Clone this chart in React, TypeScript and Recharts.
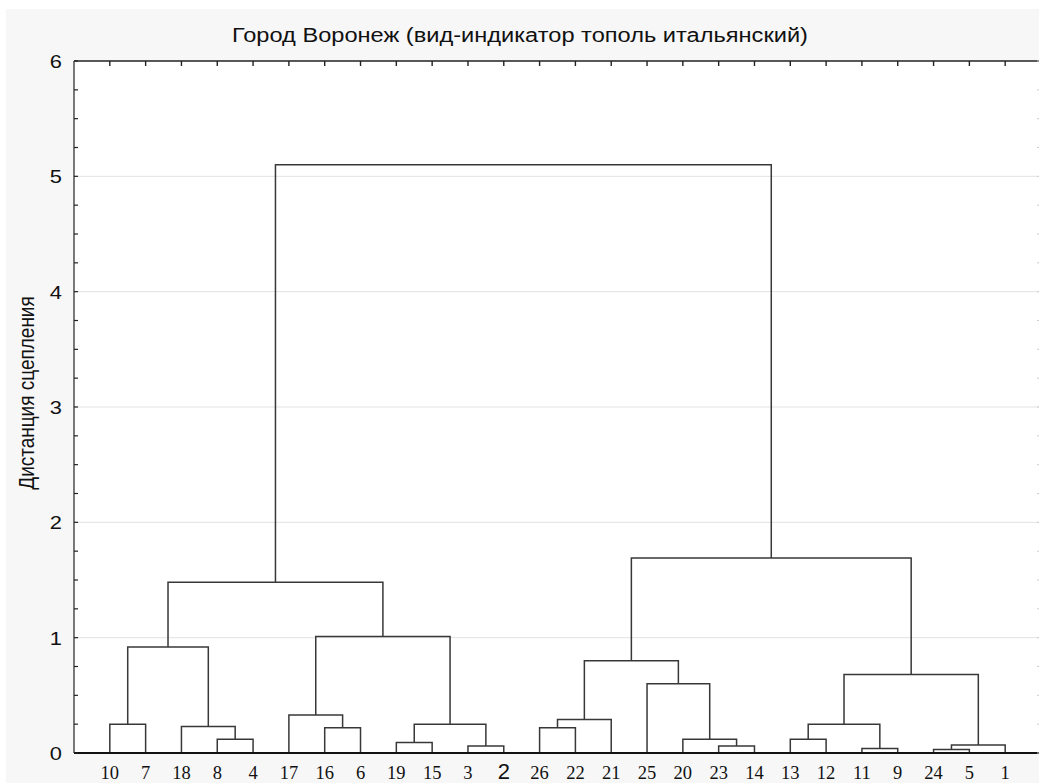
import { ComposedChart, Line, XAxis, YAxis, CartesianGrid } from 'recharts';

// leaf order along the bottom axis
const leafOrder = ['10', '7', '18', '8', '4', '17', '16', '6', '19', '15', '3', '2', '26', '22', '21', '25', '20', '23', '14', '13', '12', '11', '9', '24', '5', '1'];

// merge steps: [left child, right child, linkage distance]; "mN" = result of step N
const merges: [string, string, number][] = [
  ['10', '7', 0.25],   // m0
  ['8', '4', 0.12],    // m1
  ['18', 'm1', 0.23],  // m2
  ['m0', 'm2', 0.92],  // m3
  ['16', '6', 0.22],   // m4
  ['17', 'm4', 0.33],  // m5
  ['19', '15', 0.09],  // m6
  ['3', '2', 0.06],    // m7
  ['m6', 'm7', 0.25],  // m8
  ['m5', 'm8', 1.01],  // m9
  ['m3', 'm9', 1.48],  // m10
  ['26', '22', 0.22],  // m11
  ['m11', '21', 0.29], // m12
  ['23', '14', 0.06],  // m13
  ['20', 'm13', 0.12], // m14
  ['25', 'm14', 0.6],  // m15
  ['m12', 'm15', 0.8], // m16
  ['13', '12', 0.12],  // m17
  ['11', '9', 0.04],   // m18
  ['m17', 'm18', 0.25],// m19
  ['24', '5', 0.03],   // m20
  ['m20', '1', 0.07],  // m21
  ['m19', 'm21', 0.68],// m22
  ['m16', 'm22', 1.69],// m23
  ['m10', 'm23', 5.1], // m24
];

const yMajor = [0, 1, 2, 3, 4, 5, 6];
const gridValues = [1, 2, 3, 4, 5];
const title = 'Город Воронеж (вид-индикатор тополь итальянский)';
const yLabel = 'Дистанция сцепления';

const sans = '"Liberation Sans", Arial, sans-serif';
const serif = '"Liberation Serif", "Times New Roman", serif';
const ink = '#383838';

// dendrogram layout: leaves at 1..n, parent sits at the midpoint of its children
const pos: Record<string, { x: number; h: number }> = {};
leafOrder.forEach((l, i) => { pos[l] = { x: i + 1, h: 0 }; });
const links = merges.map(([a, b, h], i) => {
  const A = pos[a];
  const B = pos[b];
  pos['m' + i] = { x: (A.x + B.x) / 2, h };
  return [
    { x: A.x, y: A.h },
    { x: A.x, y: h },
    { x: B.x, y: h },
    { x: B.x, y: B.h },
  ];
});

const leafTicks = leafOrder.map((_, i) => i + 1);
const yMinor: number[] = [];
yMajor.slice(0, -1).forEach((v) => { [0, 0.25, 0.5, 0.75].forEach((q) => yMinor.push(v + q)); });
yMinor.push(yMajor[yMajor.length - 1]);

const LeftTick = (props: any) => {
  const { x, y, payload } = props;
  const major = Number.isInteger(payload.value);
  return (
    <g>
      <line x1={x} x2={x + 4} y1={y} y2={y} stroke="#222" strokeWidth={1.2} />
      {major && (
        <text
          transform={`translate(${x - 12},${y + 7}) scale(1.15,1)`}
          textAnchor="end"
          fontSize={19}
          fontFamily={sans}
          fill="#111"
        >
          {payload.value}
        </text>
      )}
    </g>
  );
};

const RightTick = (props: any) => {
  const { x, y } = props;
  return <line x1={x} x2={x - 4} y1={y} y2={y} stroke="#ccc" />;
};

const TopTick = (props: any) => {
  const { x, y } = props;
  return <line x1={x} x2={x} y1={y} y2={y + 5} stroke="#222" strokeWidth={1.4} />;
};

const BottomTick = (props: any) => {
  const { x, y, payload } = props;
  const label = leafOrder[payload.value - 1];
  const odd = label === '2';
  return (
    <text
      x={x}
      y={y + 26}
      textAnchor="middle"
      fontSize={odd ? 22 : 18.5}
      fontFamily={odd ? sans : serif}
      fill="#111"
    >
      {label}
    </text>
  );
};

export default function App() {
  return (
    <div style={{ position: 'absolute', left: 0, top: 0, width: 1039, height: 783, overflow: 'hidden', background: '#fff' }}>
      <div style={{ position: 'absolute', left: 6, top: 9, right: 0, bottom: 0, background: '#f7f7f7' }} />
      <div style={{ position: 'absolute', left: 0, top: 0 }}>
        <ComposedChart width={1043} height={783} margin={{ top: 31, right: 0, bottom: 0, left: 0 }}>
          <CartesianGrid
            xAxisId="bottom"
            yAxisId="left"
            vertical={false}
            horizontalValues={gridValues}
            stroke="#e2e2e2"
            fill="#fff"
          />
          <XAxis
            xAxisId="bottom"
            type="number"
            dataKey="x"
            domain={[0, leafOrder.length + 1]}
            ticks={leafTicks}
            interval={0}
            height={30}
            tickSize={0}
            tickMargin={0}
            tick={BottomTick}
            axisLine={{ stroke: '#111', strokeWidth: 2 }}
            tickLine={false}
            allowDecimals={false}
          />
          <XAxis
            xAxisId="top"
            orientation="top"
            type="number"
            dataKey="x"
            domain={[0, leafOrder.length + 1]}
            ticks={leafTicks}
            interval={0}
            height={30}
            tickSize={0}
            tickMargin={0}
            tick={TopTick}
            axisLine={{ stroke: '#222', strokeWidth: 1.5 }}
            tickLine={false}
          />
          <YAxis
            yAxisId="left"
            type="number"
            domain={[0, 6]}
            ticks={yMinor}
            interval={0}
            width={74}
            tickSize={0}
            tickMargin={0}
            tick={LeftTick}
            axisLine={{ stroke: '#222', strokeWidth: 1.2 }}
            tickLine={false}
          />
          <YAxis
            yAxisId="right"
            orientation="right"
            type="number"
            domain={[0, 6]}
            ticks={yMinor}
            interval={0}
            width={2}
            tickSize={0}
            tickMargin={0}
            tick={RightTick}
            axisLine={{ stroke: '#ccc' }}
            tickLine={false}
          />
          <Line
            xAxisId="top"
            yAxisId="right"
            data={[{ x: 0, y: 0 }, { x: leafOrder.length + 1, y: 6 }]}
            dataKey="y"
            stroke="none"
            dot={false}
            activeDot={false}
            isAnimationActive={false}
          />
          {links.map((d, i) => (
            <Line
              key={i}
              xAxisId="bottom"
              yAxisId="left"
              data={d}
              dataKey="y"
              type="linear"
              stroke={ink}
              strokeWidth={1.5}
              dot={false}
              activeDot={false}
              isAnimationActive={false}
            />
          ))}
        </ComposedChart>
      </div>
      <svg width={1039} height={783} style={{ position: 'absolute', left: 0, top: 0, pointerEvents: 'none' }}>
        <text
          x={520}
          y={42}
          textAnchor="middle"
          fontSize={20}
          fontFamily={sans}
          fill="#111"
          textLength={576}
          lengthAdjust="spacingAndGlyphs"
        >
          {title}
        </text>
        <text
          x={0}
          y={0}
          transform="translate(33.5, 393) scale(1.17, 1) rotate(-90)"
          textAnchor="middle"
          fontSize={19}
          fontFamily={sans}
          fill="#111"
        >
          {yLabel}
        </text>
      </svg>
    </div>
  );
}
